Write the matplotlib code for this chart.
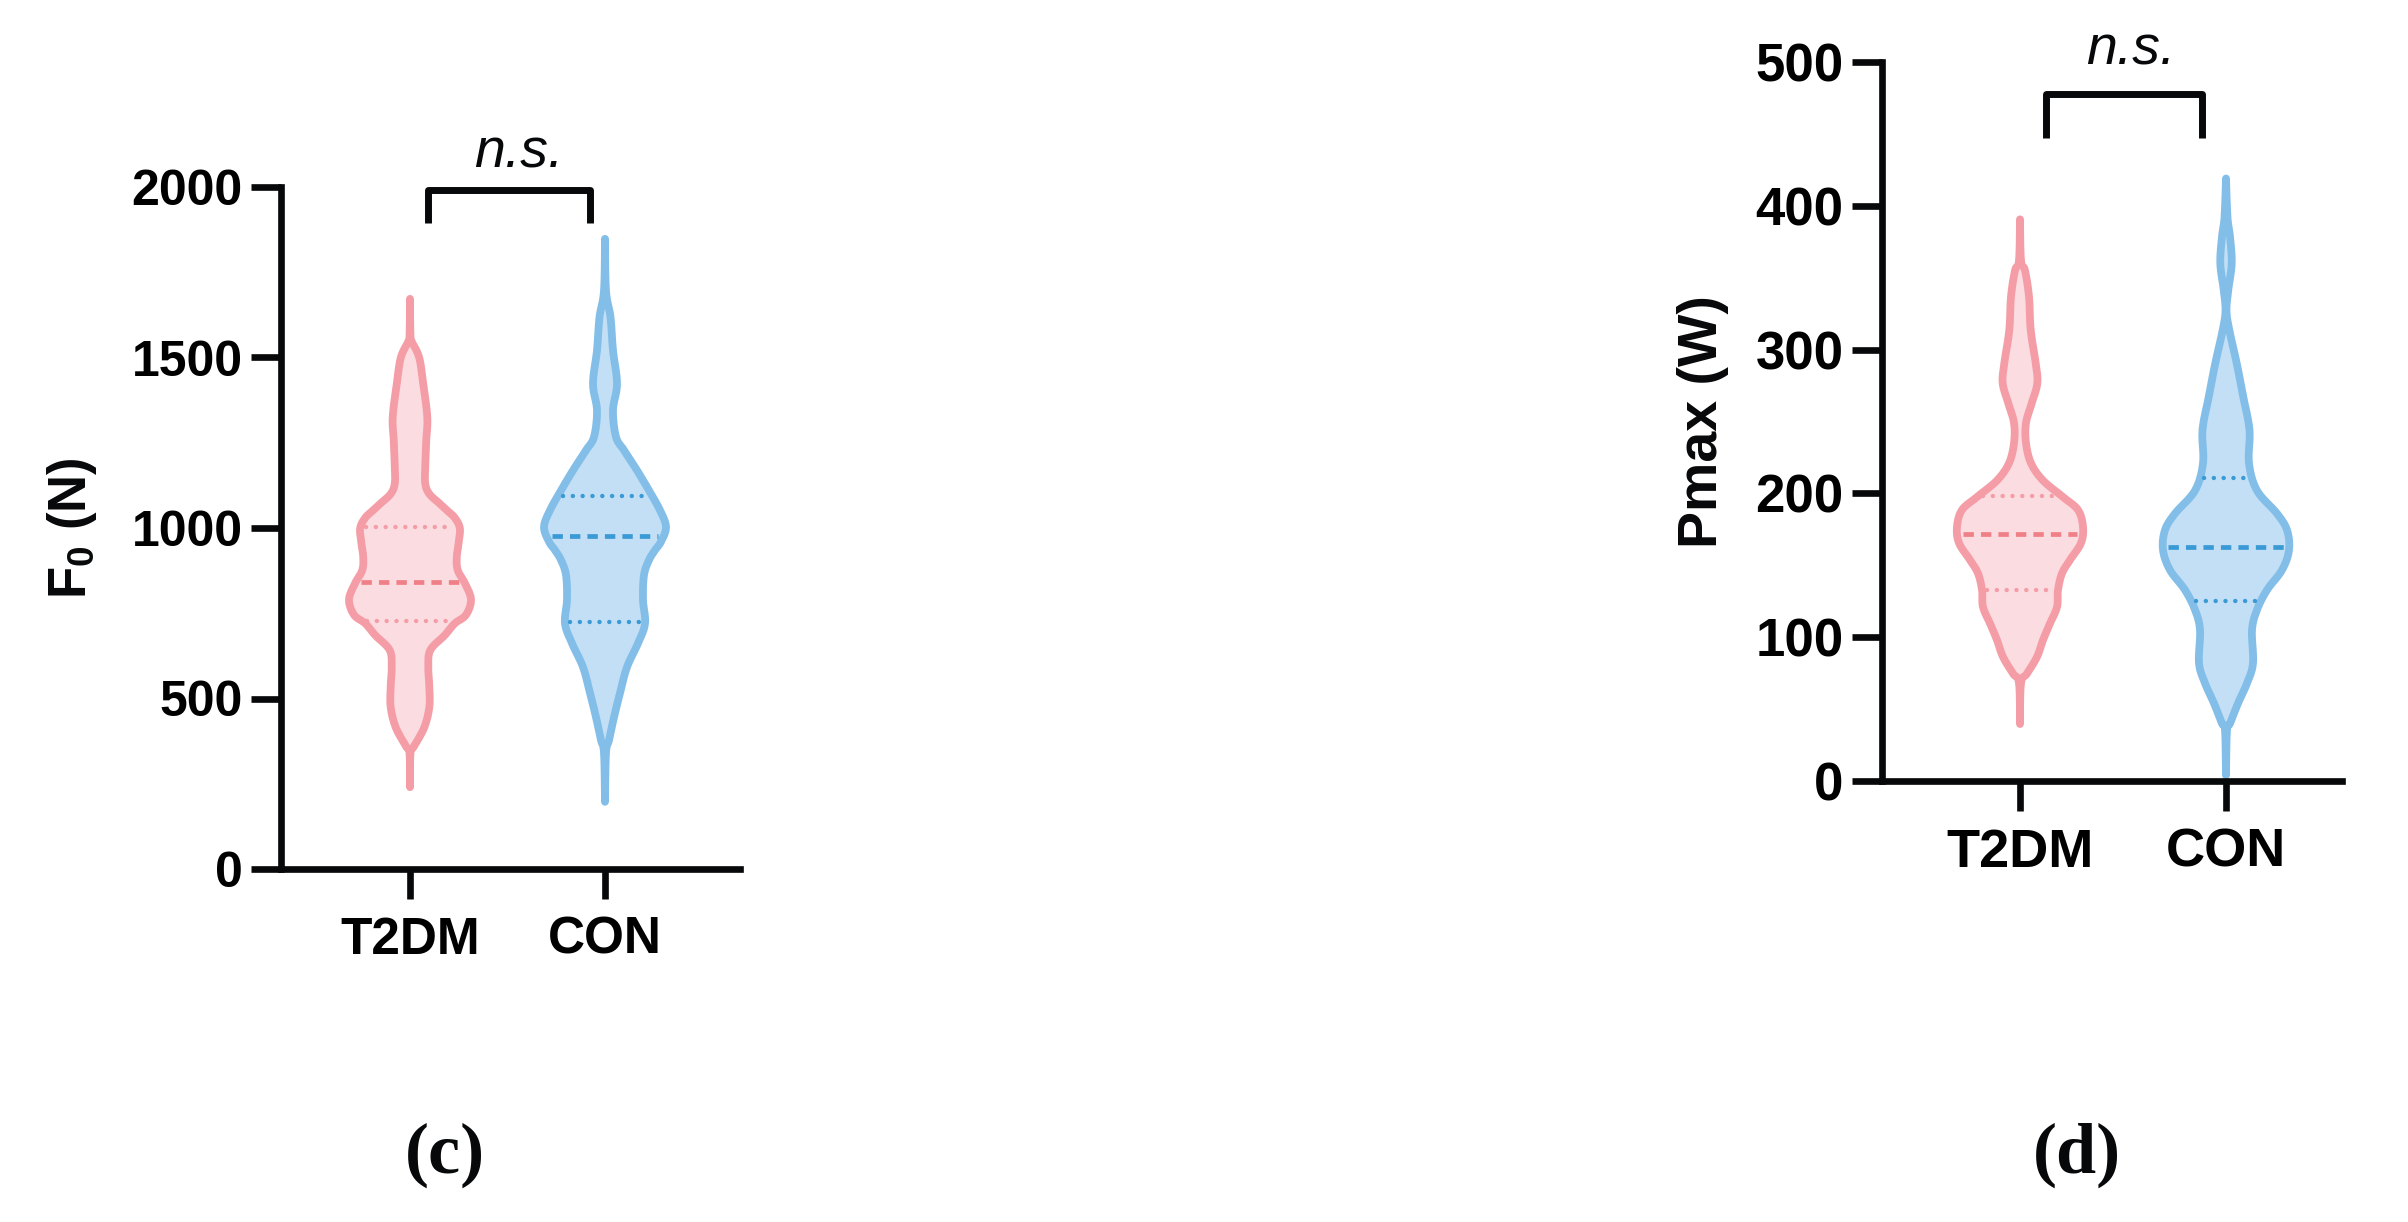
import numpy as np
import matplotlib
matplotlib.use('Agg')
import matplotlib.pyplot as plt

plt.rcParams['font.family'] = 'Liberation Sans'
plt.rcParams['font.weight'] = 'bold'
plt.rcParams['mathtext.fontset'] = 'custom'
plt.rcParams['mathtext.rm'] = 'Liberation Sans:bold'
plt.rcParams['mathtext.it'] = 'Liberation Sans:bold'
plt.rcParams['mathtext.bf'] = 'Liberation Sans:bold'

groups = ['T2DM', 'CON']

# ---- panel (c): F0 (N) ----
# violin outline: y value and relative density (width)
t2dm_c_y = [240, 340, 360, 415, 475, 535, 592, 642, 685, 720, 745, 790, 838, 876,
            914, 960, 1000, 1030, 1050, 1072, 1100, 1130, 1180, 1257, 1325, 1423,
            1500, 1545, 1560, 1672]
t2dm_c_w = [0, 0.5, 4, 14, 19, 19, 18, 20, 34, 44, 55, 60, 54, 47,
            46, 48, 49, 44, 37, 29, 19, 15, 15, 16, 17, 13,
            9, 2, 0.5, 0]
con_c_y = [197, 340, 378, 445, 516, 592, 662, 720, 790, 862, 906, 935, 960, 1003,
           1052, 1110, 1169, 1228, 1267, 1345, 1423, 1521, 1618, 1696, 1848]
con_c_w = [0, 1, 4, 9, 15, 22, 33, 40, 38, 39, 44, 50, 56, 61,
           55, 44, 32, 19, 11, 8, 12, 8, 5.5, 1, 0]
# Q1, median, Q3
t2dm_c_q = [727, 841, 1004]
con_c_q = [725, 978, 1094]

# ---- panel (d): Pmax (W) ----
t2dm_d_y = [39.6, 68, 74.7, 86.3, 98, 109.6, 121, 132.8, 144.4, 153.7, 165.5, 176.8,
            188.5, 197.5, 209, 221, 235, 249, 262.7, 276.6, 290.5, 313.6, 336.8,
            355, 362, 390.6]
t2dm_d_w = [0, 1, 7, 17, 23, 30, 37, 38, 42, 50, 61, 63,
            58, 43, 23, 11, 6, 6, 11.7, 17.3, 15.7, 10.7, 9,
            5, 1, 0]
con_d_y = [4, 35.5, 40, 54, 68, 82, 105, 119, 132.8, 146.7, 160.6, 174.5, 186, 202,
           221, 244, 267, 290.5, 313.6, 327, 341.5, 360, 378.5, 392, 419]
con_d_w = [0, 1, 4, 12, 21, 27, 26, 31, 41, 56, 63, 61, 51, 31,
           23, 23.5, 17.3, 10.7, 3.3, 0.5, 2.3, 5.7, 4, 1.5, 0]
t2dm_d_q = [133, 171.5, 198]
con_d_q = [125, 163, 211]

pink = dict(fill='#FBDCE1', edge='#F59DA6', med='#F08087', quart='#F59DA6')
blue = dict(fill='#C2DFF5', edge='#83BEE8', med='#3A9AD6', quart='#3A9AD6')
black = '#070809'


def smooth_outline(y, hw, n=10):
    # Catmull-Rom curve through the read points, only for drawing a smooth edge
    P = np.column_stack([y, hw])
    P = np.vstack([P[0], P, P[-1]])
    t = np.linspace(0, 1, n, endpoint=False)[:, None]
    out = []
    for i in range(1, len(P) - 2):
        p0, p1, p2, p3 = P[i - 1], P[i], P[i + 1], P[i + 2]
        seg = 0.5 * (2 * p1 + (-p0 + p2) * t + (2 * p0 - 5 * p1 + 4 * p2 - p3) * t ** 2
                     + (-p0 + 3 * p1 - 3 * p2 + p3) * t ** 3)
        out.append(seg)
    out.append(P[-2][None])
    s = np.vstack(out)
    s[:, 1] = np.clip(s[:, 1], 0, None)
    return s[:, 0], s[:, 1]


def draw_violin(ax, xc, y, w, q, col, max_half, inset):
    y = np.array(y, dtype=float)
    w = np.array(w, dtype=float)
    hw = w / w.max() * max_half
    ys, hs = smooth_outline(y, hw)
    xs = np.concatenate([xc + hs, (xc - hs)[::-1]])
    yy = np.concatenate([ys, ys[::-1]])
    ax.fill(xs, yy, facecolor=col['fill'], edgecolor=col['edge'], lw=5.6,
            joinstyle='round', capstyle='round', zorder=2)
    for i, val in enumerate(q):
        h = np.interp(val, y, hw) - inset
        if i == 1:
            ax.plot([xc - h, xc + h], [val, val], color=col['med'], lw=3.4,
                    ls=(0, (2.2, 1.5)), dash_capstyle='butt', zorder=3)
        else:
            ax.plot([xc - h, xc + h], [val, val], color=col['quart'], lw=3.2,
                    ls=(0, (0.01, 2.2)), dash_capstyle='round', zorder=3)


def style_axes(ax, ysize, xsize):
    for s in ['top', 'right']:
        ax.spines[s].set_visible(False)
    for s in ['left', 'bottom']:
        ax.spines[s].set_linewidth(4.8)
        ax.spines[s].set_color(black)
        ax.spines[s].set_capstyle('projecting')
    ax.tick_params(axis='both', length=21.6, width=4.8, color=black, direction='out')
    ax.tick_params(axis='y', labelsize=ysize, pad=6)
    ax.tick_params(axis='x', labelsize=xsize, pad=12)
    ax.set_xticks([1, 2])
    ax.set_xticklabels(groups)


def bracket(ax, x1, x2, yb, yt, ytext, xtext):
    ax.plot([x1, x1, x2, x2], [yb, yt, yt, yb], color=black, lw=5,
            solid_joinstyle='round', solid_capstyle='butt', clip_on=False)
    ax.text(xtext, ytext, 'n.s.', fontsize=40, fontstyle='italic', fontweight='normal',
            ha='center', va='baseline', color=black)


W, H = 2408, 1222
fig = plt.figure(figsize=(W / 100, H / 100), dpi=100)

# panel c
axc = fig.add_axes([281 / W, 1 - 869 / H, 459 / W, 682 / H])
axc.set_xlim(1 - 129 / 195, 2 + 135 / 195)
axc.set_ylim(0, 2000)
axc.set_yticks([0, 500, 1000, 1500, 2000])
style_axes(axc, 36, 37)
draw_violin(axc, 1, t2dm_c_y, t2dm_c_w, t2dm_c_q, pink, 61 / 195, 5 / 195)
draw_violin(axc, 2, con_c_y, con_c_w, con_c_q, blue, 61 / 195, 5 / 195)
bracket(axc, 1.092, 1.923, 1893, 1990, 2057, 1.559)
axc.text(-0.455, 0.5, 'F$_0$ (N)', transform=axc.transAxes, rotation=90,
         ha='center', va='center', fontsize=38, color=black)

# panel d
axd = fig.add_axes([1882 / W, 1 - 781 / H, 460 / W, 719 / H])
axd.set_xlim(1 - 138 / 206, 2 + 116 / 206)
axd.set_ylim(0, 500)
axd.set_yticks([0, 100, 200, 300, 400, 500])
style_axes(axd, 38, 39)
draw_violin(axd, 1, t2dm_d_y, t2dm_d_w, t2dm_d_q, pink, 63 / 206, 5 / 206)
draw_violin(axd, 2, con_d_y, con_d_w, con_d_q, blue, 63 / 206, 5 / 206)
bracket(axd, 1.126, 1.883, 447, 478, 498, 1.539)
axd.text(-0.389, 0.5, 'Pmax (W)', transform=axd.transAxes, rotation=90,
         ha='center', va='center', fontsize=40, color=black)

fig.text(445 / W, 1 - 1155 / H, '(c)', family='Liberation Serif', fontweight='bold',
         fontsize=52, ha='center', va='center', color=black)
fig.text(2077 / W, 1 - 1155 / H, '(d)', family='Liberation Serif', fontweight='bold',
         fontsize=52, ha='center', va='center', color=black)

fig.savefig('out.png', dpi=100, facecolor='white')
